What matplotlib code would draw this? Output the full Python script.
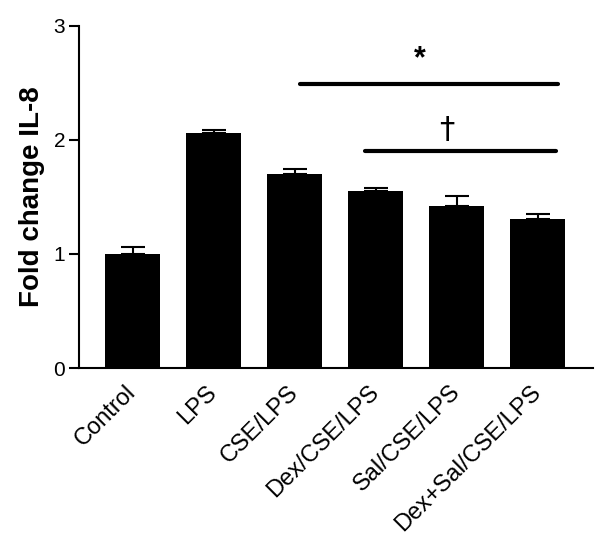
import matplotlib
matplotlib.use("Agg")
import matplotlib.pyplot as plt

plt.rcParams['font.family'] = ['Liberation Sans', 'DejaVu Sans']

categories = ["Control", "LPS", "CSE/LPS", "Dex/CSE/LPS", "Sal/CSE/LPS", "Dex+Sal/CSE/LPS"]
values = [1.00, 2.065, 1.705, 1.555, 1.42, 1.307]
errors = [0.065, 0.02, 0.04, 0.028, 0.09, 0.048]

sig_star = (2.07, 5.25, 2.49)     # x start, x end, y
sig_dagger = (2.87, 5.22, 1.905)

fig = plt.figure(figsize=(6, 5.4), dpi=100)
ax = fig.add_axes([0.1317, 0.3185, 0.8563, 0.6334])

x = list(range(len(categories)))
ax.bar(x, values, width=0.68, color='black', zorder=2)
ax.errorbar(x, values, yerr=[[0]*len(errors), errors], fmt='none', ecolor='black',
            elinewidth=1.5, capsize=8.5, capthick=1.5, zorder=1)

ax.set_xlim(-0.66, 5.68)
ax.set_ylim(0, 3)
ax.set_yticks([0, 1, 2, 3])
ax.set_yticklabels(["0", "1", "2", "3"], fontsize=15)
ax.set_xticks(x)
ax.set_xticklabels(categories, fontsize=17, rotation=45, ha='right', va='center',
                   rotation_mode='anchor')
ax.tick_params(axis='x', length=0, pad=15)
ax.tick_params(axis='y', length=7, width=1.5, direction='out', pad=3)

for s in ['top', 'right']:
    ax.spines[s].set_visible(False)
for s in ['left', 'bottom']:
    ax.spines[s].set_linewidth(1.5)

ax.set_ylabel("Fold change IL-8", fontsize=20, fontweight='bold', labelpad=6)

ax.plot([sig_star[0], sig_star[1]], [sig_star[2]]*2, color='black', lw=3, solid_capstyle='round')
ax.plot([sig_dagger[0], sig_dagger[1]], [sig_dagger[2]]*2, color='black', lw=3, solid_capstyle='round')
ax.text(3.54, 2.58, "*", fontsize=22, fontweight='bold', ha='center', va='bottom')
ax.text(3.88, 2.09, "\u2020", fontsize=22, ha='center', va='center', family=['DejaVu Sans'])

fig.savefig("out.png", dpi=100)
